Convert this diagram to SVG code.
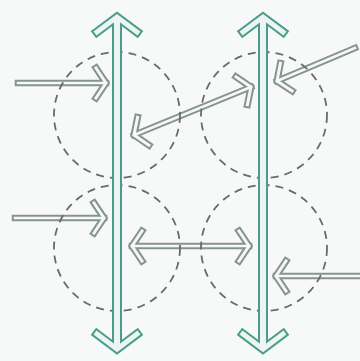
<svg xmlns="http://www.w3.org/2000/svg" width="360" height="361" viewBox="0 0 360 361">
<style>
.bg{fill:#f7f9f8}
.ho{fill:none;stroke:#86948f;stroke-width:7;stroke-linecap:square;stroke-linejoin:miter}
.hi{fill:none;stroke:#f5f8f7;stroke-width:3;stroke-linecap:square;stroke-linejoin:miter}
.hso{fill:none;stroke:#86948f;stroke-width:6.5;stroke-linecap:square}
.hsi{fill:none;stroke:#f5f8f7;stroke-width:2.5;stroke-linecap:square}
.vso{fill:none;stroke:#4a9d89;stroke-width:10}
.vsi{fill:none;stroke:#edf5f2;stroke-width:6}
.vo{fill:none;stroke:#4a9d89;stroke-width:9;stroke-linecap:square;stroke-linejoin:miter}
.vi{fill:none;stroke:#edf5f2;stroke-width:5;stroke-linecap:square;stroke-linejoin:miter}
.zone{fill:none;stroke:#6a6a6a;stroke-width:1.8;stroke-dasharray:8 6}
</style>
<rect class="bg" x="0" y="0" width="360" height="361"/>
<g id="connectors">
  <g class="outer">
    <line class="hso" x1="18" y1="83" x2="106" y2="83"/>
    <path class="ho" d="M96,68 L106,83 L96,98"/>
    <line class="hso" x1="15" y1="218" x2="104" y2="218"/>
    <path class="ho" d="M94,203 L104,218 L94,233"/>
    <line class="hso" x1="132" y1="246" x2="249" y2="246"/>
    <path class="ho" d="M142,231 L132,246 L142,261"/>
    <path class="ho" d="M239,231 L249,246 L239,261"/>
    <line class="hso" x1="276" y1="276" x2="366" y2="276"/>
    <path class="ho" d="M286,261 L276,276 L286,291"/>
    <line class="hso" x1="277" y1="81" x2="355" y2="48"/>
    <path class="ho" d="M280.4,63.3 L277,81 L292.1,90.9"/>
    <line class="hso" x1="134" y1="135" x2="251" y2="87"/>
    <path class="ho" d="M137.6,117.3 L134,135 L148.9,145.1"/>
    <path class="ho" d="M236.1,76.9 L251,87 L247.4,104.7"/>
  </g>
  <g class="inner">
    <line class="hsi" x1="18" y1="83" x2="106" y2="83"/>
    <path class="hi" d="M96,68 L106,83 L96,98"/>
    <line class="hsi" x1="15" y1="218" x2="104" y2="218"/>
    <path class="hi" d="M94,203 L104,218 L94,233"/>
    <line class="hsi" x1="132" y1="246" x2="249" y2="246"/>
    <path class="hi" d="M142,231 L132,246 L142,261"/>
    <path class="hi" d="M239,231 L249,246 L239,261"/>
    <line class="hsi" x1="276" y1="276" x2="366" y2="276"/>
    <path class="hi" d="M286,261 L276,276 L286,291"/>
    <line class="hsi" x1="277" y1="81" x2="355" y2="48"/>
    <path class="hi" d="M280.4,63.3 L277,81 L292.1,90.9"/>
    <line class="hsi" x1="134" y1="135" x2="251" y2="87"/>
    <path class="hi" d="M137.6,117.3 L134,135 L148.9,145.1"/>
    <path class="hi" d="M236.1,76.9 L251,87 L247.4,104.7"/>
  </g>
</g>
<g id="zones">
  <circle id="zone-tl" class="zone" cx="117" cy="115" r="63"/>
  <circle id="zone-tr" class="zone" cx="264" cy="115" r="63"/>
  <circle id="zone-bl" class="zone" cx="117" cy="248" r="63"/>
  <circle id="zone-br" class="zone" cx="264" cy="248" r="63"/>
</g>
<g id="axis-left">
  <line class="vso" x1="117" y1="17" x2="117" y2="349"/>
  <path class="vo" d="M97,32 L117,17 L137,32"/>
  <path class="vo" d="M97,334 L117,349 L137,334"/>
  <line class="vsi" x1="117" y1="17" x2="117" y2="349"/>
  <path class="vi" d="M97,32 L117,17 L137,32"/>
  <path class="vi" d="M97,334 L117,349 L137,334"/>
</g>
<g id="axis-right">
  <line class="vso" x1="263" y1="17" x2="263" y2="349"/>
  <path class="vo" d="M243,32 L263,17 L283,32"/>
  <path class="vo" d="M243,334 L263,349 L283,334"/>
  <line class="vsi" x1="263" y1="17" x2="263" y2="349"/>
  <path class="vi" d="M243,32 L263,17 L283,32"/>
  <path class="vi" d="M243,334 L263,349 L283,334"/>
</g>
</svg>
